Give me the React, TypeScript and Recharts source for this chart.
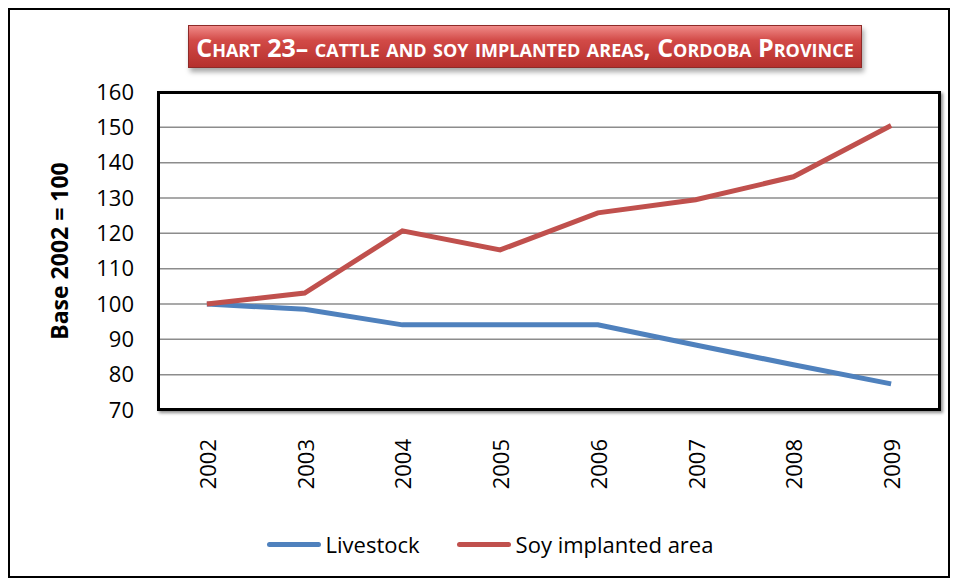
import React from 'react';
import { LineChart, Line, XAxis, YAxis, CartesianGrid, Legend } from 'recharts';

const years = ['2002', '2003', '2004', '2005', '2006', '2007', '2008', '2009'];
const livestock = [100, 98.5, 94.1, 94.1, 94.1, 88.4, 82.8, 77.4];
const soyArea = [100, 103.1, 120.7, 115.3, 125.8, 129.5, 136, 150.5];
const yTicks = [70, 80, 90, 100, 110, 120, 130, 140, 150, 160];

const data = years.map((year, i) => ({ year, Livestock: livestock[i], Soy: soyArea[i] }));

const FONT = '"Open Sans", sans-serif';

const XTick = (props: any) => {
  const { x, y, payload } = props;
  return (
    <text
      x={x}
      y={y + 21}
      transform={`rotate(-90, ${x}, ${y + 21})`}
      textAnchor="end"
      dominantBaseline="central"
      fontSize={22}
      fontFamily={FONT}
      fill="#000"
    >
      {payload.value}
    </text>
  );
};

const LegendContent = () => {
  const items = [
    { label: 'Livestock', color: '#4F81BD' },
    { label: 'Soy implanted area', color: '#C0504D' },
  ];
  return (
    <div style={{ height: 40, display: 'flex', justifyContent: 'center', alignItems: 'center', gap: 37, fontFamily: FONT, fontSize: 22, color: '#000', paddingLeft: 30 }}>
      {items.map((it) => (
        <div key={it.label} style={{ display: 'flex', alignItems: 'center' }}>
          <div style={{ width: 54, height: 5, borderRadius: 3, background: it.color, marginRight: 5 }} />
          <span>{it.label}</span>
        </div>
      ))}
    </div>
  );
};

const App: React.FC = () => {
  return (
    <div style={{ position: 'relative', width: 938, height: 566, border: '2px solid #000', background: '#fff' }}>
      <LineChart width={938} height={566} data={data} margin={{ top: 82, right: 8, bottom: 12, left: 0 }}>
        <CartesianGrid horizontal vertical={false} stroke="#8c8c8c" strokeWidth={1.5} />
        <XAxis
          dataKey="year"
          scale="band"
          height={114}
          axisLine={false}
          tickLine={false}
          interval={0}
          tick={<XTick />}
        />
        <YAxis
          width={148}
          domain={[70, 160]}
          ticks={yTicks}
          axisLine={false}
          tickLine={false}
          tickSize={0}
          tickMargin={24}
          interval={0}
          tick={{ fontSize: 22, fontFamily: FONT, fill: '#000' }}
          label={{
            value: 'Base 2002 = 100',
            angle: -90,
            position: 'insideLeft',
            offset: 50,
            style: { fontSize: 23, fontWeight: 700, fontFamily: FONT, fill: '#000', textAnchor: 'middle' },
          }}
        />
        <Line type="linear" dataKey="Livestock" stroke="#4F81BD" strokeWidth={5} dot={false} isAnimationActive={false} />
        <Line type="linear" dataKey="Soy" name="Soy implanted area" stroke="#C0504D" strokeWidth={5} dot={false} isAnimationActive={false} />
        <Legend verticalAlign="bottom" content={<LegendContent />} />
      </LineChart>
      <div
        style={{
          position: 'absolute',
          left: 147,
          top: 81,
          width: 784,
          height: 320,
          boxSizing: 'border-box',
          border: '3px solid #000',
          boxShadow: '2px 2px 3px rgba(0,0,0,0.45)',
          pointerEvents: 'none',
        }}
      />
      <div
        style={{
          position: 'absolute',
          left: 178,
          top: 15,
          width: 674,
          height: 43,
          boxSizing: 'border-box',
          background: 'linear-gradient(#f08a88 0%, #d24a47 35%, #b5302d 100%)',
          border: '1px solid #8e2a28',
          boxShadow: '2px 4px 5px rgba(0,0,0,0.35)',
          color: '#fff',
          fontFamily: FONT,
          fontWeight: 700,
          fontSize: 25,
          fontVariant: 'small-caps',
          display: 'flex',
          alignItems: 'center',
          justifyContent: 'center',
          whiteSpace: 'nowrap',
          letterSpacing: 0,
        }}
      >
        Chart 23– cattle and soy implanted areas, Cordoba Province
      </div>
    </div>
  );
};

export default App;
